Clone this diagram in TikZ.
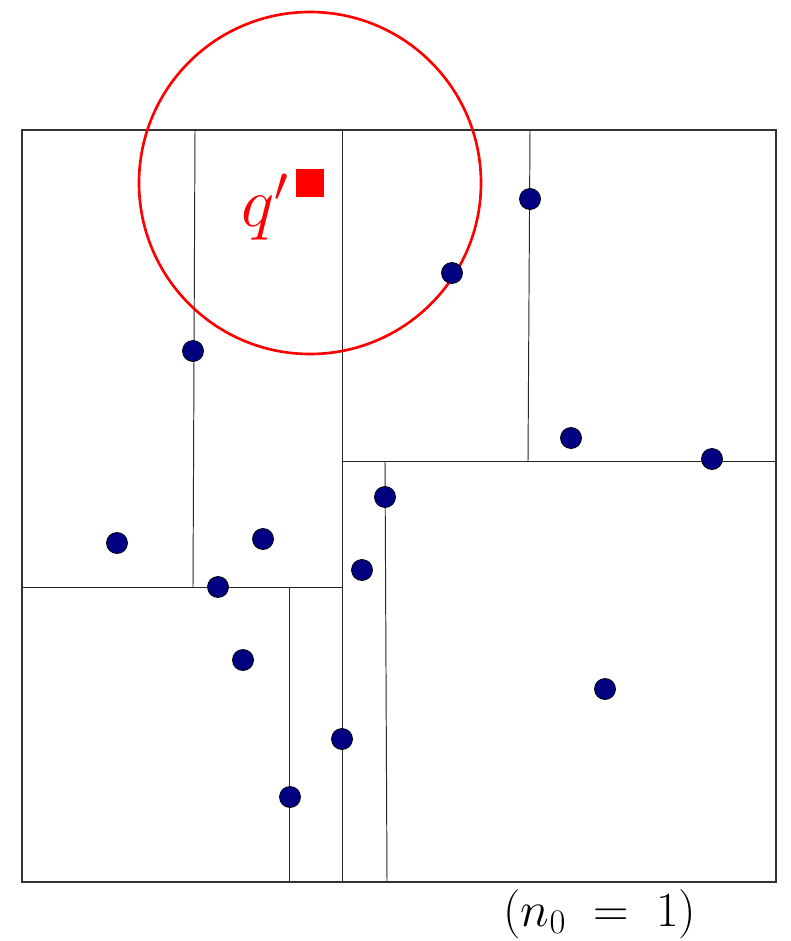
\documentclass[tikz,border=0pt]{standalone}
\usepackage{fix-cm}
\usepackage{amsmath,amssymb}
\usetikzlibrary{positioning}

\tikzset{
  cell/.style={black!80, line width=0.6pt},
  split/.style={black!85, line width=0.55pt},
  pt/.style={circle, fill=blue!50!black, draw=black, line width=0.4pt,
             minimum size=12pt, inner sep=0pt},
  query/.style={red, line width=1.5pt}
}

\begin{document}
\begin{tikzpicture}[x=0.2mm, y=-0.2mm]
  \useasboundingbox (0,0) rectangle (790,941);
  % Outer cell
  \draw[cell] (22,130) rectangle (776,882);
  % Splitting lines
  \draw[split] (342,130) -- (342,882);
  \draw[split] (22,587) -- (342,587);
  \draw[split] (195,130) -- (193,587);
  \draw[split] (289,587) -- (289,882);
  \draw[split] (342,461) -- (776,461);
  \draw[split] (530,130) -- (528,461);
  \draw[split] (385,461) -- (387,882);
  % Query ball
  \draw[query] (310,183) circle (171);
  \node[fill=red, minimum size=16.4pt, inner sep=0pt] (q) at (310,183) {};
  \node[red, anchor=base east, inner sep=0pt, font=\fontsize{40}{44}\selectfont]
    (qlabel) at (289,227) {$q'$};
  % Data points
  \node[pt] (p1) at (193,351) {};
  \node[pt] (p2) at (530,199) {};
  \node[pt] (p3) at (452,273) {};
  \node[pt] (p4) at (571,438) {};
  \node[pt] (p5) at (712,459) {};
  \node[pt] (p6) at (385,497) {};
  \node[pt] (p7) at (117,543) {};
  \node[pt] (p8) at (263,539) {};
  \node[pt] (p9) at (218,587) {};
  \node[pt] (p10) at (362,570) {};
  \node[pt] (p11) at (243,660) {};
  \node[pt] (p12) at (605,689) {};
  \node[pt] (p13) at (342,739) {};
  \node[pt] (p14) at (290,797) {};
  % Leaf size
  \node[font=\fontsize{28}{32}\selectfont, inner sep=0pt, anchor=base]
    (nlabel) at (600,926) {$(n_0\;=\;1)$};
\end{tikzpicture}
\end{document}
